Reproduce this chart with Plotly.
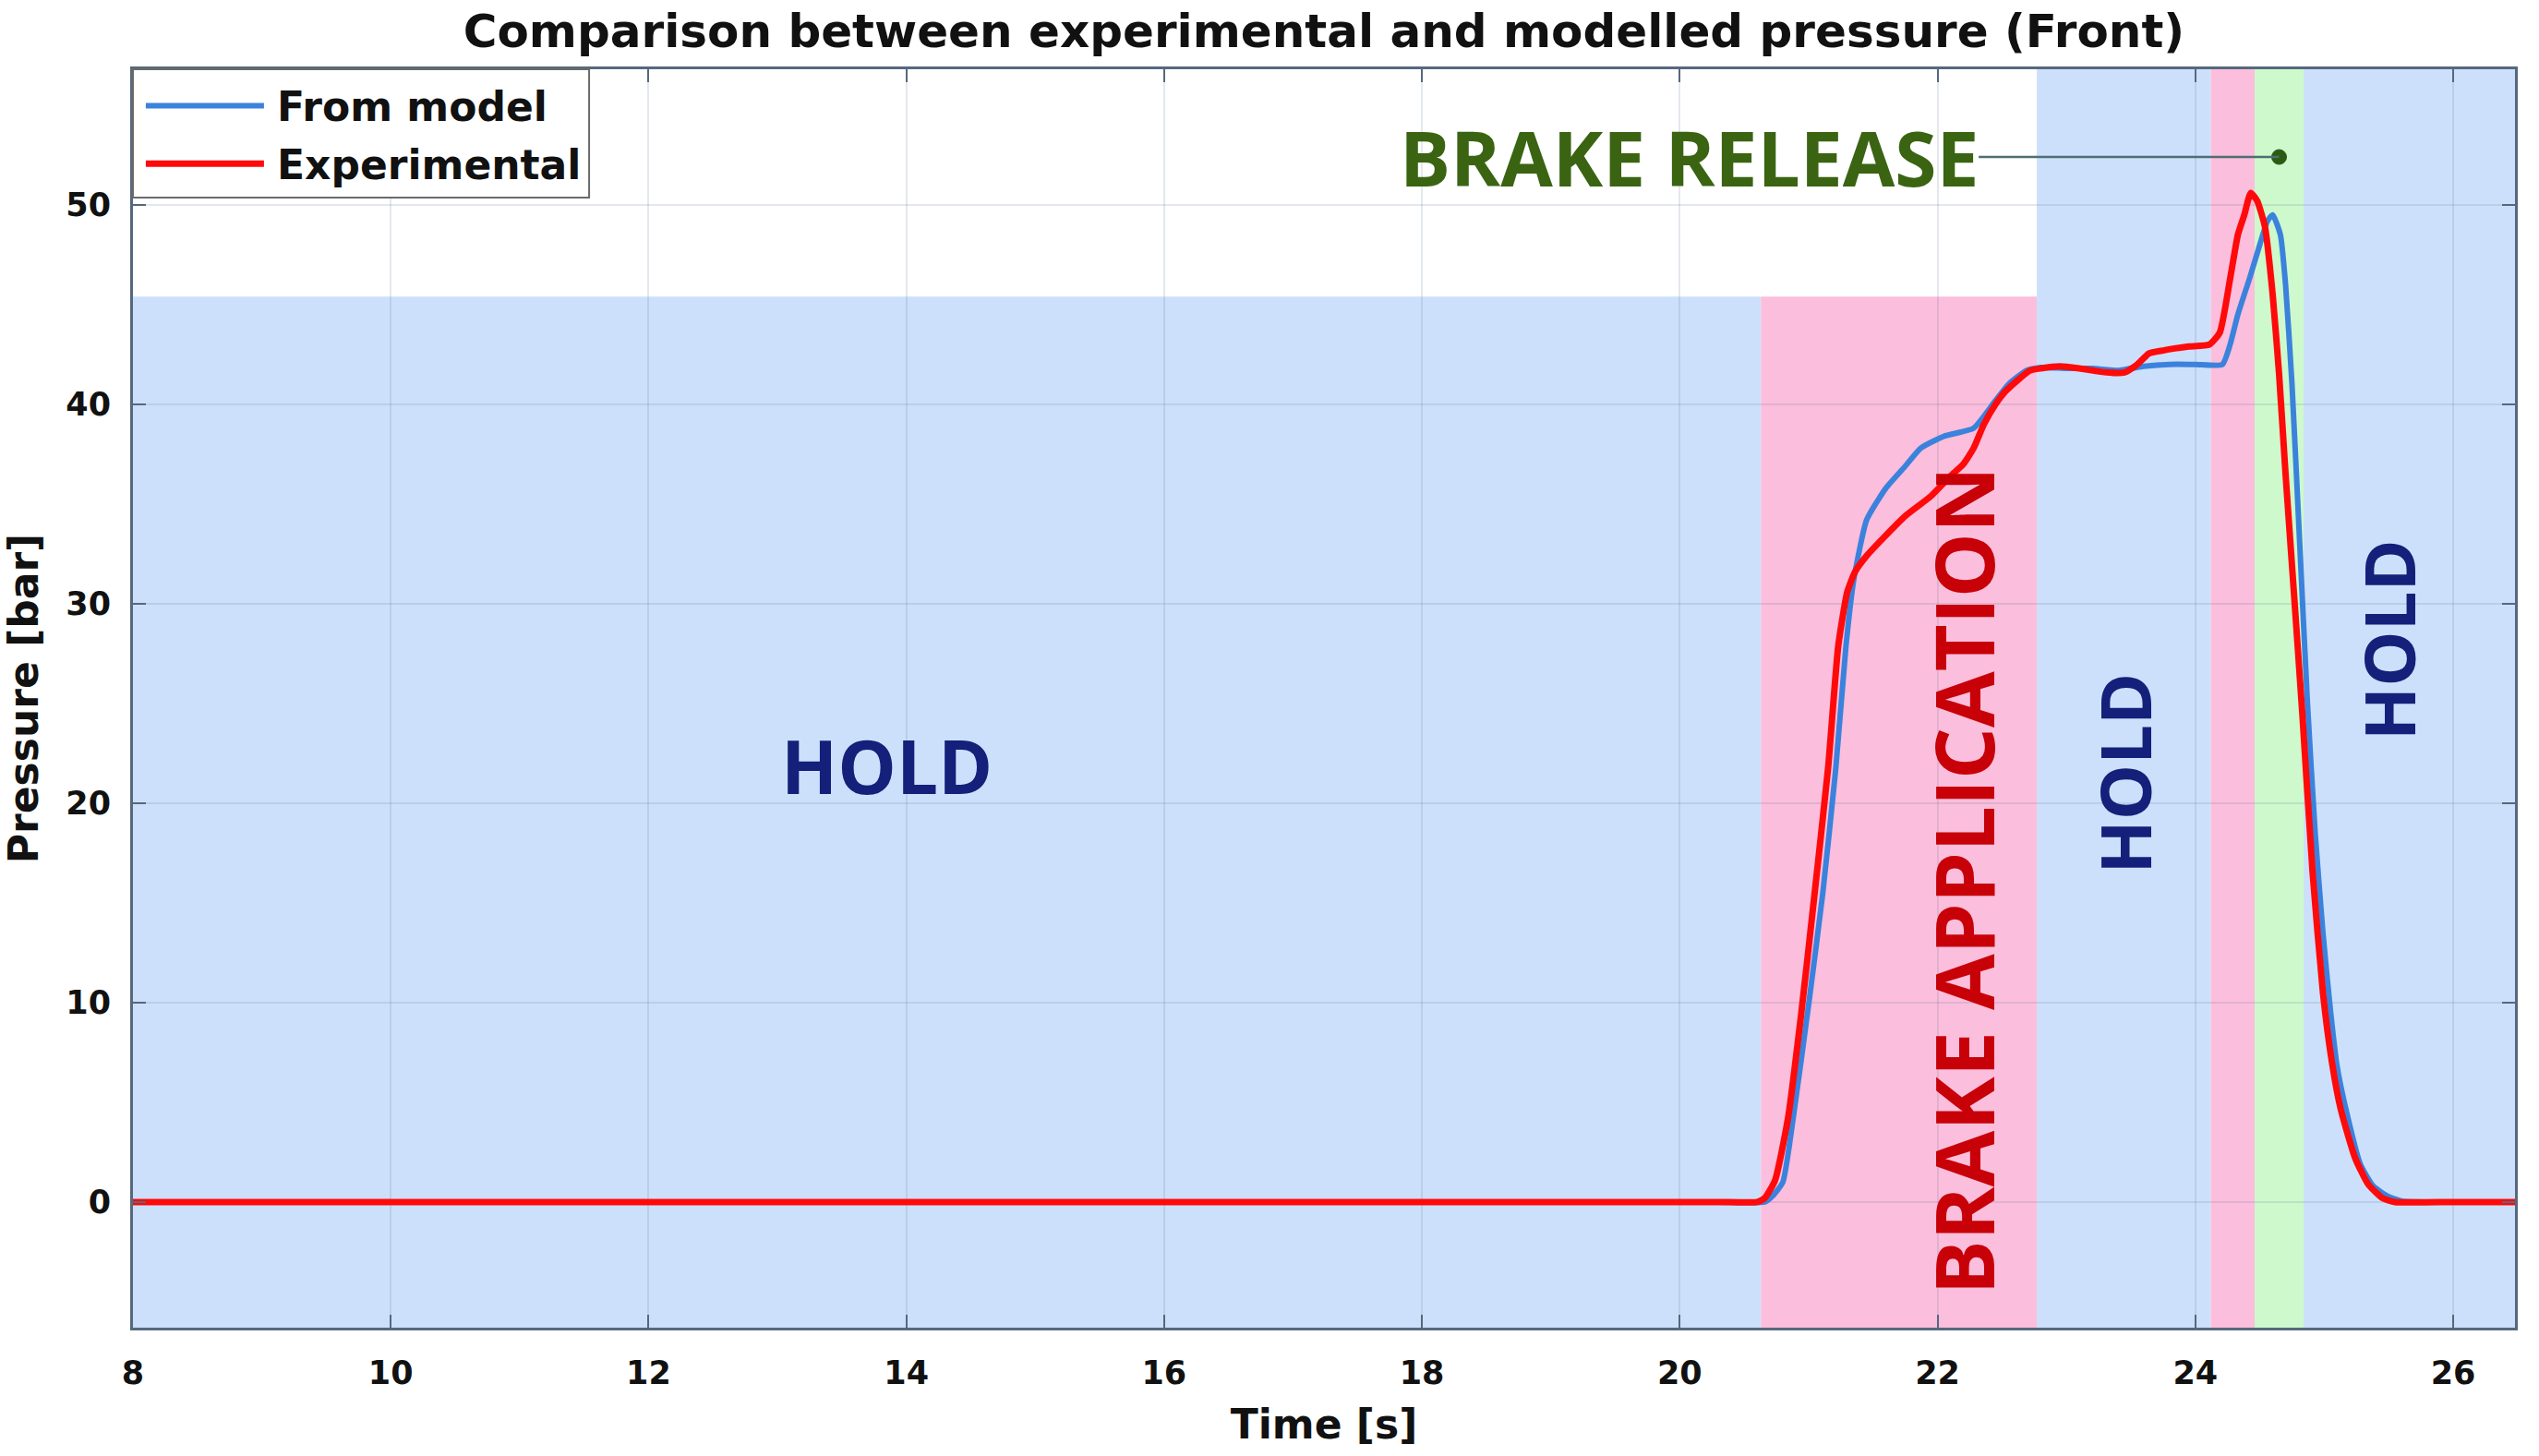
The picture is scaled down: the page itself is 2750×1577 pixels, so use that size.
import plotly.graph_objects as go

# ---------------- data ----------------
time_model = [8.0, 10.0, 12.0, 14.0, 16.0, 18.0, 19.5, 20.3, 20.66, 20.72, 20.80, 20.88, 21.00,
              21.11, 21.21, 21.29, 21.35, 21.45, 21.60, 21.75, 21.87, 22.05, 22.28, 22.44, 22.55,
              22.69, 22.80, 23.00, 23.20, 23.40, 23.60, 23.80, 24.00, 24.21, 24.27, 24.33, 24.42,
              24.50, 24.56, 24.60, 24.66, 24.70, 24.75, 24.81, 24.87, 24.93, 24.99, 25.05, 25.10,
              25.17, 25.28, 25.38, 25.49, 25.60, 26.0, 26.48]
pressure_model = [0.0, 0.0, 0.0, 0.0, 0.0, 0.0, 0.0, 0.0, 0.0, 0.3, 1.0, 4.2, 9.9,
                  15.5, 21.7, 27.9, 31.2, 34.2, 35.8, 36.9, 37.8, 38.4, 38.8, 40.1, 41.0,
                  41.7, 41.85, 41.8, 41.8, 41.7, 41.9, 42.0, 42.0, 42.0, 43.0, 44.5, 46.3,
                  48.0, 49.2, 49.5, 48.5, 46.0, 41.0, 33.0, 25.0, 18.5, 13.5, 9.5, 6.8,
                  4.6, 1.9, 0.8, 0.3, 0.05, 0.0, 0.0]

time_exp = [8.0, 10.0, 12.0, 14.0, 16.0, 18.0, 19.5, 20.3, 20.60, 20.66, 20.74, 20.84, 20.94,
            21.04, 21.15, 21.23, 21.30, 21.36, 21.45, 21.58, 21.75, 21.95, 22.10, 22.20, 22.28,
            22.36, 22.45, 22.52, 22.62, 22.72, 22.80, 22.95, 23.10, 23.31, 23.45, 23.55, 23.64,
            23.75, 23.84, 23.95, 24.11, 24.19, 24.27, 24.33, 24.38, 24.43, 24.48, 24.54, 24.60,
            24.65, 24.70, 24.76, 24.83, 24.91, 24.99, 25.06, 25.13, 25.24, 25.34, 25.45, 25.55,
            26.0, 26.48]
pressure_exp = [0.0, 0.0, 0.0, 0.0, 0.0, 0.0, 0.0, 0.0, 0.0, 0.2, 1.1, 4.2, 9.3,
                15.1, 21.7, 27.9, 30.6, 31.6, 32.4, 33.3, 34.4, 35.4, 36.4, 37.0, 37.8,
                39.0, 40.0, 40.6, 41.2, 41.7, 41.8, 41.9, 41.8, 41.6, 41.6, 42.0, 42.55,
                42.7, 42.8, 42.9, 43.0, 43.6, 46.3, 48.5, 49.5, 50.6, 50.2, 48.9, 45.5,
                41.5, 36.5, 31.0, 24.5, 16.5, 10.5, 7.0, 4.6, 2.2, 0.9, 0.2, 0.0,
                0.0, 0.0]

phase_labels = ["HOLD", "BRAKE APPLICATION", "HOLD", "BRAKE APPLICATION", "BRAKE RELEASE", "HOLD"]
phase_start = [8.0, 20.63, 22.77, 24.12, 24.46, 24.84]
phase_end = [20.63, 22.77, 24.12, 24.46, 24.84, 26.48]
phase_top = [45.4, 45.4, None, None, None, None]

x_ticks = [8, 10, 12, 14, 16, 18, 20, 22, 24, 26]
y_ticks = [0, 10, 20, 30, 40, 50]

series_names = ["From model", "Experimental"]

# ---------------- styles ----------------
X_RANGE = [8.0, 26.48]
Y_RANGE = [-6.3, 56.8]
phase_colors = {"HOLD": "#cde0fb", "BRAKE APPLICATION": "#fbbedc", "BRAKE RELEASE": "#cdf9cc"}
MODEL_COLOR = "#3b82dc"
EXP_COLOR = "#ff0a0a"
AXIS_COLOR = "#56687e"
LABEL_FONT = "DejaVu Sans"
ANNOT_FONT = "Open Sans"

fig = go.Figure()
fig.add_trace(go.Scatter(x=time_model, y=pressure_model, mode="lines", name=series_names[0],
                         line=dict(color=MODEL_COLOR, width=6, shape="spline", smoothing=0.5),
                         showlegend=False))
fig.add_trace(go.Scatter(x=time_exp, y=pressure_exp, mode="lines", name=series_names[1],
                         line=dict(color=EXP_COLOR, width=7, shape="spline", smoothing=0.5),
                         showlegend=False))

shapes = []
for lab, x0, x1, top in zip(phase_labels, phase_start, phase_end, phase_top):
    shapes.append(dict(type="rect", xref="x", yref="y", x0=x0, x1=x1,
                       y0=Y_RANGE[0], y1=top if top is not None else Y_RANGE[1],
                       fillcolor=phase_colors[lab], line=dict(width=0), layer="below"))

# custom legend (box + long line samples)
shapes.append(dict(type="rect", xref="paper", yref="paper", x0=0, x1=0.1915, y0=0.898, y1=1,
                   fillcolor="white", line=dict(color="#6a6a6a", width=2), layer="above"))
shapes.append(dict(type="line", xref="paper", yref="paper", x0=0.0054, x1=0.055, y0=0.971, y1=0.971,
                   line=dict(color=MODEL_COLOR, width=6), layer="above"))
shapes.append(dict(type="line", xref="paper", yref="paper", x0=0.0054, x1=0.055, y0=0.925, y1=0.925,
                   line=dict(color=EXP_COLOR, width=7), layer="above"))

# brake release marker dot
shapes.append(dict(type="circle", xref="x", yref="y", xsizemode="pixel", ysizemode="pixel",
                   xanchor=24.65, yanchor=52.4, x0=-8, x1=8, y0=-8, y1=8,
                   fillcolor="#2b5a12", line=dict(color="#2b5a12", width=1), layer="above"))

annotations = [
    dict(x=0.0597, y=0.970, xref="paper", yref="paper", text=series_names[0], showarrow=False,
         xanchor="left", yanchor="middle", font=dict(family=LABEL_FONT, size=44, color="#111", weight="bold")),
    dict(x=0.0597, y=0.924, xref="paper", yref="paper", text=series_names[1], showarrow=False,
         xanchor="left", yanchor="middle", font=dict(family=LABEL_FONT, size=44, color="#111", weight="bold")),
    dict(x=13.85, y=21.9, xref="x", yref="y", text=phase_labels[0], showarrow=False,
         font=dict(family=ANNOT_FONT, size=80, color="#14207a", weight="bold")),
    dict(x=22.20, y=16.1, xref="x", yref="y", text=phase_labels[1], showarrow=False, textangle=-90,
         font=dict(family=ANNOT_FONT, size=88, color="#c80008", weight="bold")),
    dict(x=23.45, y=21.5, xref="x", yref="y", text=phase_labels[2], showarrow=False, textangle=-90,
         font=dict(family=ANNOT_FONT, size=76, color="#14207a", weight="bold")),
    dict(x=25.50, y=28.2, xref="x", yref="y", text=phase_labels[5], showarrow=False, textangle=-90,
         font=dict(family=ANNOT_FONT, size=76, color="#14207a", weight="bold")),
    dict(x=24.65, y=52.4, xref="x", yref="y", ax=20.07, ay=52.4, axref="x", ayref="y",
         text=phase_labels[4], showarrow=True, arrowhead=0, arrowwidth=2.5, arrowcolor="#4e6e70",
         standoff=0, borderpad=0,
         font=dict(family=ANNOT_FONT, size=82, color="#3a6412", weight="bold")),
]

axis_common = dict(showline=True, linecolor=AXIS_COLOR, linewidth=3, mirror="ticks",
                   ticks="inside", ticklen=14, tickwidth=2, tickcolor=AXIS_COLOR,
                   showgrid=True, gridcolor="rgba(90,110,140,0.16)", gridwidth=2,
                   zeroline=False,
                   tickfont=dict(family=LABEL_FONT, size=35, color="#111", weight="bold"))

fig.update_layout(
    width=2750, height=1577,
    margin=dict(l=144, r=26, t=75, b=139),
    paper_bgcolor="white", plot_bgcolor="white",
    title=dict(text="Comparison between experimental and modelled pressure (Front)",
               x=0.5, xref="paper", xanchor="center", y=0.979, yref="container", yanchor="middle",
               font=dict(family=LABEL_FONT, size=50, color="#111", weight="bold")),
    xaxis=dict(range=X_RANGE, tickvals=x_ticks, ticktext=[str(v) for v in x_ticks],
               ticklabelstandoff=16,
               title=dict(text="Time [s]", standoff=22,
                          font=dict(family=LABEL_FONT, size=44, color="#111", weight="bold")),
               **axis_common),
    yaxis=dict(range=Y_RANGE, tickvals=y_ticks, ticktext=[str(v) for v in y_ticks],
               ticklabelstandoff=14,
               title=dict(text="Pressure [bar]", standoff=22,
                          font=dict(family=LABEL_FONT, size=44, color="#111", weight="bold")),
               **axis_common),
    shapes=shapes,
    annotations=annotations,
    showlegend=False,
)

fig.write_html("out.html", config={"displayModeBar": False},
               post_script="document.body.style.margin='0';document.body.style.padding='0';")
